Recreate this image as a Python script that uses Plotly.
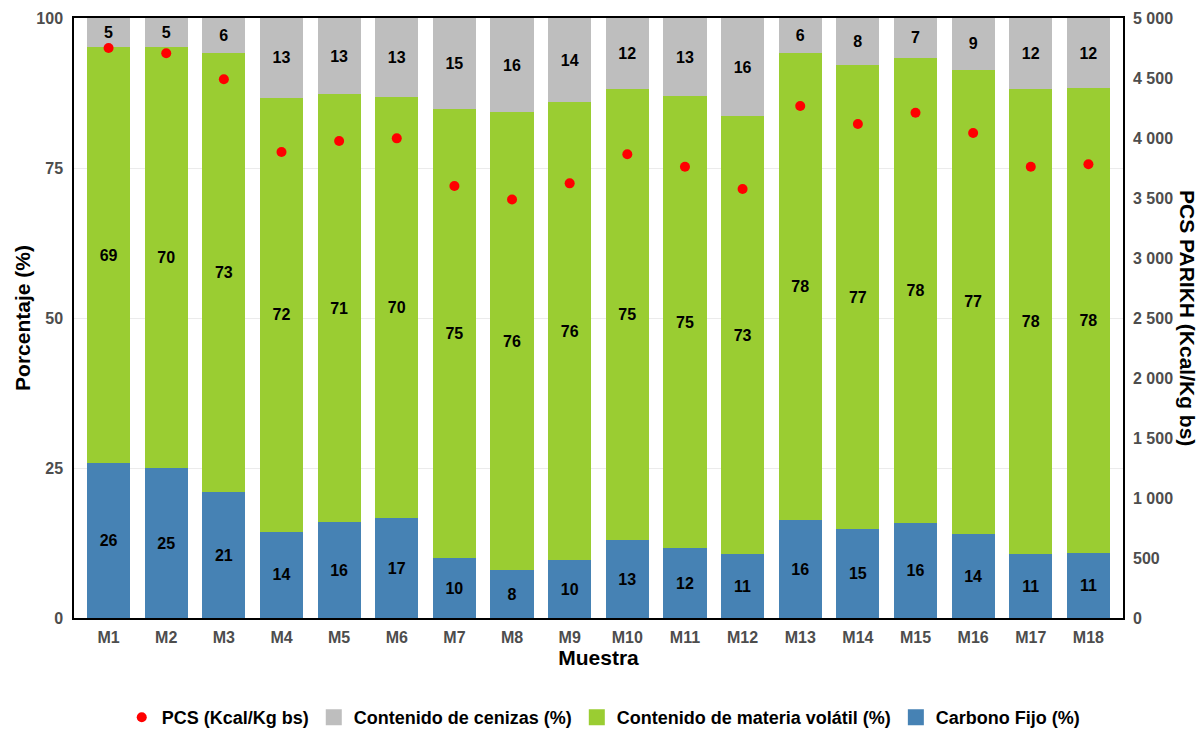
import plotly.graph_objects as go

muestras = [f"M{i}" for i in range(1, 19)]
carbono_fijo = [25.8, 25.0, 21.0, 14.4, 16.0, 16.6, 10.0, 8.0, 9.6, 13.0, 11.6, 10.6, 16.3, 14.8, 15.8, 14.0, 10.6, 10.8]
materia_volatil = [69.3, 70.1, 73.2, 72.3, 71.3, 70.3, 74.8, 76.3, 76.4, 75.1, 75.4, 73.0, 77.9, 77.4, 77.6, 77.4, 77.6, 77.5]
cenizas = [4.9, 4.9, 5.8, 13.3, 12.7, 13.1, 15.2, 15.7, 14.0, 11.9, 13.0, 16.4, 5.8, 7.8, 6.6, 8.6, 11.8, 11.7]
pcs = [4750, 4706, 4489, 3883, 3975, 3997, 3600, 3487, 3622, 3864, 3761, 3575, 4267, 4117, 4211, 4042, 3761, 3781]

C_BLUE = "#4682B4"
C_GREEN = "#9ACD32"
C_GRAY = "#BEBEBE"
C_RED = "#FF0000"
FONT = "Liberation Sans, Arial, sans-serif"

fig = go.Figure()

def bar(name, vals, color):
    return go.Bar(
        x=muestras, y=vals, name=name, marker=dict(color=color, line=dict(width=0)),
        width=0.75, text=vals, texttemplate="%{y:.0f}", textposition="inside",
        insidetextanchor="middle", textangle=0, constraintext="none",
        insidetextfont=dict(family=FONT, size=16, color="black", weight="bold"),
        showlegend=False, hoverinfo="y+name",
    )

fig.add_trace(bar("Carbono Fijo (%)", carbono_fijo, C_BLUE))
fig.add_trace(bar("Contenido de materia volátil (%)", materia_volatil, C_GREEN))
fig.add_trace(bar("Contenido de cenizas (%)", cenizas, C_GRAY))
fig.add_trace(go.Scatter(
    x=muestras, y=pcs, name="PCS (Kcal/Kg bs)", mode="markers", yaxis="y2",
    marker=dict(color=C_RED, size=10), legendrank=1,
))

# legend-only entries with larger square keys
for name, color, rank in [("Contenido de cenizas (%)", C_GRAY, 2),
                          ("Contenido de materia volátil (%)", C_GREEN, 3),
                          ("Carbono Fijo (%)", C_BLUE, 4)]:
    fig.add_trace(go.Scatter(
        x=[None], y=[None], name=name, mode="markers",
        marker=dict(symbol="square", color=color, size=16), legendrank=rank,
        hoverinfo="skip",
    ))

tickfont = dict(family=FONT, size=16, color="#4D4D4D", weight="bold")
titlefont = dict(family=FONT, size=21, color="black", weight="bold")

fig.update_layout(
    width=1200, height=729,
    barmode="stack",
    plot_bgcolor="white", paper_bgcolor="white",
    separators=", ",
    margin=dict(l=74, r=77, t=18, b=111, autoexpand=False),
    showlegend=True,
    legend=dict(orientation="h", x=0.505, xanchor="center", y=-0.135, yanchor="top",
                font=dict(family=FONT, size=18, color="black", weight="bold"),
                traceorder="normal", itemsizing="trace", itemwidth=30),
    xaxis=dict(
        type="category", range=[-0.6, 17.6], showline=True, linecolor="black", linewidth=1.5,
        mirror=True, ticks="", tickfont=tickfont, showgrid=False, automargin=False,
        ticklabelstandoff=4,
        title=dict(text="Muestra", font=titlefont, standoff=4),
    ),
    yaxis=dict(
        range=[0, 100], tickvals=[0, 25, 50, 75, 100], showline=True, linecolor="black",
        linewidth=1.5, mirror=True, ticks="", tickfont=tickfont, gridcolor="#EBEBEB",
        zeroline=False, automargin=False, ticklabelstandoff=6,
        title=dict(text="Porcentaje (%)", font=titlefont, standoff=0),
    ),
    yaxis2=dict(
        overlaying="y", side="right", range=[0, 5000], tickvals=list(range(0, 5001, 500)),
        tickformat=",d", showgrid=False, zeroline=False, ticks="", tickfont=tickfont,
        showline=False, automargin=False, ticklabelstandoff=9,
    ),
    annotations=[dict(
        text="PCS PARIKH (Kcal/Kg bs)", textangle=90, xref="paper", yref="paper",
        x=1.0, xshift=65, y=0.5, showarrow=False, xanchor="center", yanchor="middle",
        font=titlefont,
    )],
)

fig.write_html("out.html", config={"displayModeBar": False},
               post_script="document.body.style.margin='0';document.body.style.overflow='hidden';")
